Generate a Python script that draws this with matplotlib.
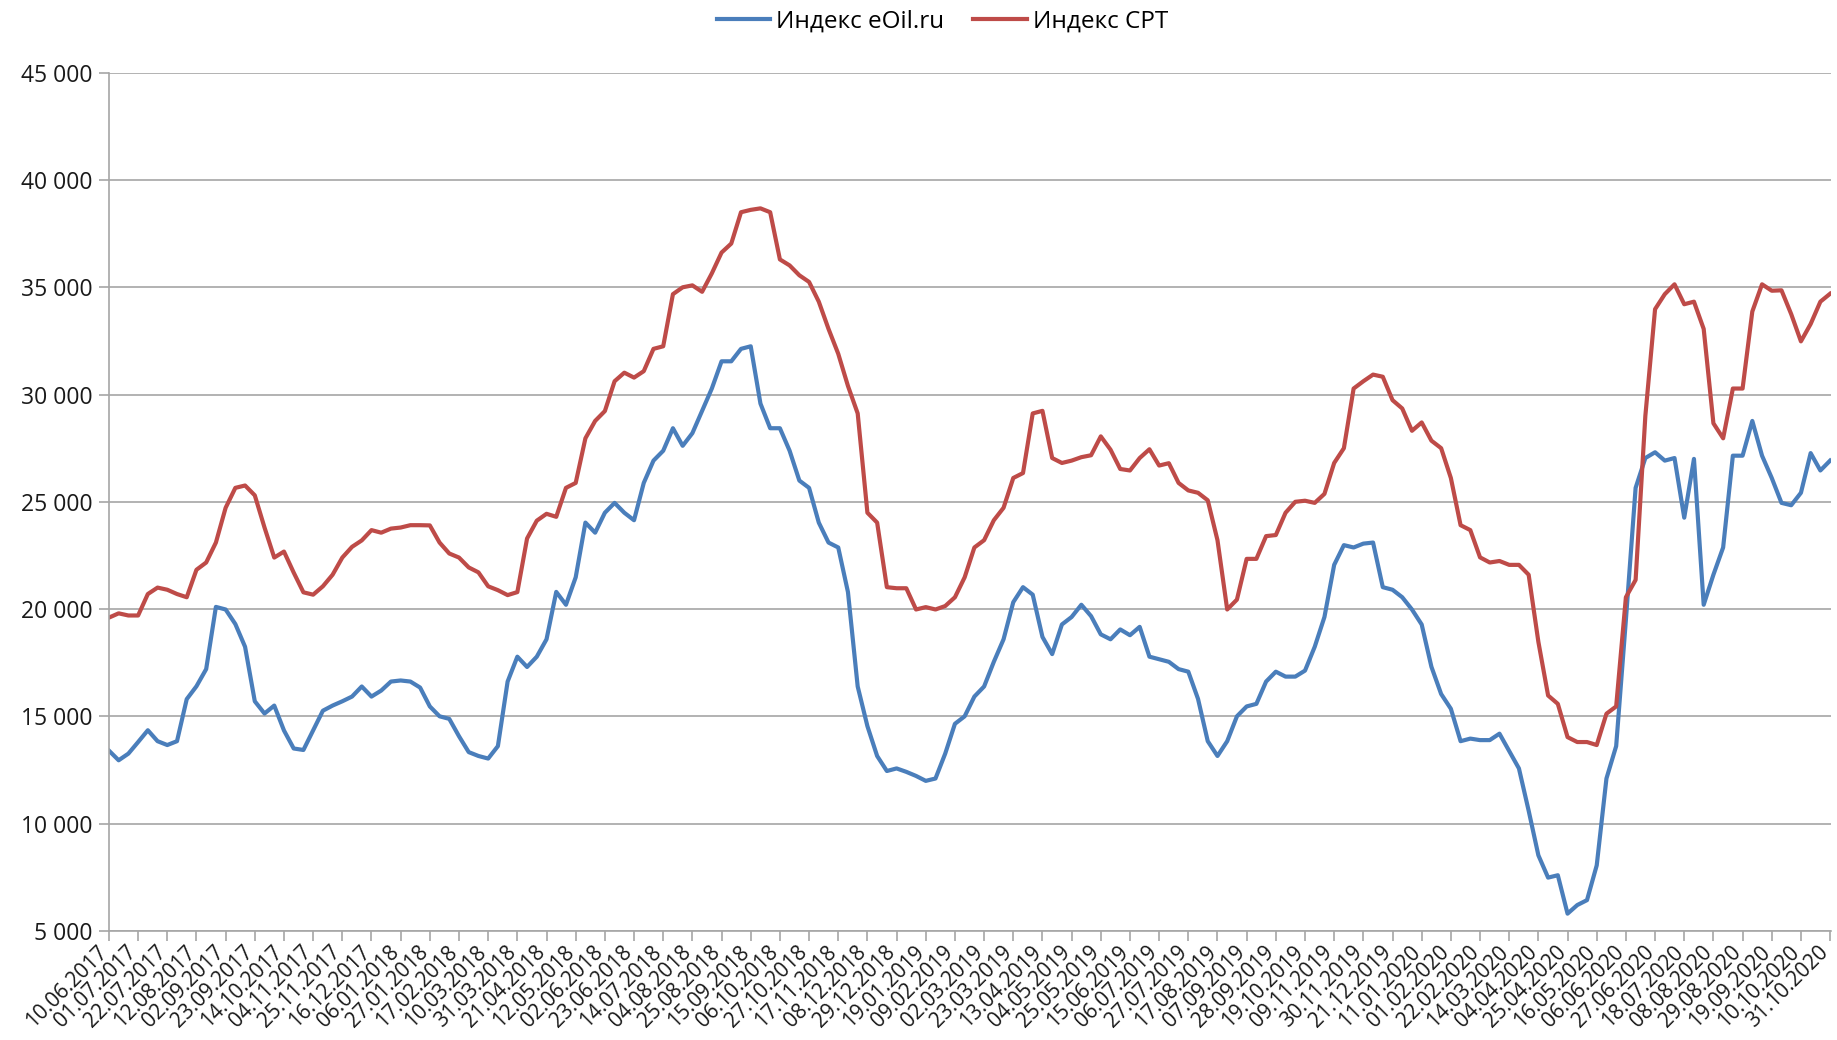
import numpy as np
import pandas as pd
import matplotlib
matplotlib.use('Agg')
import matplotlib.pyplot as plt
from matplotlib.ticker import FuncFormatter, MultipleLocator
from matplotlib.transforms import ScaledTranslation

plt.rcParams['font.family'] = ['Open Sans', 'DejaVu Sans']

# weekly readings starting 10.06.2017
start_date = '2017-06-10'
eoil_index = [
    13400, 12950, 13260, 13800, 14350, 13840, 13660, 13840, 15800, 16400,
    17200, 20100, 19980, 19300, 18240, 15700, 15130, 15500, 14340, 13500,
    13430, 14340, 15260, 15500, 15700, 15920, 16390, 15920, 16200, 16620,
    16670, 16620, 16340, 15460, 15000, 14880, 14070, 13330, 13150, 13030,
    13610, 16620, 17780, 17300, 17780, 18590, 20800, 20200, 21480, 24030,
    23560, 24490, 24950, 24490, 24140, 25880, 26920, 27380, 28430, 27610,
    28200, 29240, 30280, 31550, 31550, 32130, 32250, 29580, 28430, 28430,
    27380, 25990, 25650, 24030, 23100, 22870, 20790, 16390, 14540, 13150,
    12450, 12570, 12410, 12220, 11990, 12100, 13260, 14650, 15000, 15920,
    16390, 17540, 18590, 20320, 21020, 20670, 18700, 17900, 19280, 19630,
    20200, 19670, 18820, 18590, 19050, 18780, 19170, 17780, 17660, 17540,
    17200, 17080, 15810, 13840, 13150, 13840, 15000, 15460, 15580, 16620,
    17080, 16850, 16850, 17130, 18240, 19630, 22060, 22980, 22870, 23050,
    23100, 21020, 20900, 20550, 19980, 19280, 17310, 16040, 15350, 13840,
    13960, 13890, 13890, 14190, 13380, 12570, 10600, 8520, 7480, 7590,
    5800, 6200, 6430, 8050, 12100, 13610, 19500, 25650, 27040, 27310,
    26920, 27040, 24260, 27000, 20200, 21600, 22870, 27150, 27150, 28770,
    27150, 26110, 24950, 24840, 25420, 27270, 26460, 26920,
]
cpt_index = [
    19600, 19800, 19700, 19700, 20700, 21000, 20900, 20700, 20550, 21830,
    22170, 23100, 24720, 25650, 25760, 25300, 23800, 22400, 22680, 21700,
    20780, 20670, 21060, 21600, 22400, 22900, 23200, 23680, 23560, 23750,
    23800, 23910, 23910, 23900, 23100, 22590, 22400, 21940, 21710, 21060,
    20880, 20650, 20790, 23290, 24120, 24440, 24300, 25650, 25880, 27960,
    28770, 29230, 30620, 31020, 30790, 31090, 32130, 32250, 34680, 35000,
    35090, 34790, 35650, 36620, 37040, 38500, 38610, 38680, 38500, 36300,
    36020, 35560, 35250, 34330, 33060, 31900, 30400, 29120, 24490, 24030,
    21020, 20970, 20970, 19980, 20090, 19980, 20140, 20550, 21480, 22870,
    23210, 24140, 24720, 26110, 26340, 29120, 29240, 27040, 26810, 26920,
    27080, 27170, 28050, 27430, 26530, 26460, 27040, 27450, 26690, 26800,
    25880, 25530, 25420, 25070, 23210, 19980, 20440, 22340, 22340, 23400,
    23450, 24490, 25000, 25050, 24950, 25370, 26810, 27500, 30280, 30620,
    30930, 30830, 29740, 29350, 28310, 28700, 27850, 27500, 26110, 23910,
    23680, 22410, 22170, 22240, 22060, 22060, 21600, 18470, 15970, 15580,
    14030, 13800, 13800, 13660, 15120, 15460, 20550, 21360, 29000, 33980,
    34680, 35140, 34210, 34330, 33060, 28660, 27960, 30280, 30280, 33870,
    35140, 34840, 34860, 33750, 32480, 33290, 34330, 34700,
]
tick_dates = pd.date_range('2017-06-10', '2020-10-31', freq='21D')

weeks = pd.date_range(start_date, periods=len(eoil_index), freq='7D')

fig = plt.figure(figsize=(18.37, 10.40), dpi=100)
ax = fig.add_axes([0.0593, 0.105, 0.9377, 0.825])

ax.plot(weeks, eoil_index, color='#4A7EBB', lw=3.0, label='Индекс eOil.ru',
        solid_joinstyle='round')
ax.plot(weeks, cpt_index, color='#BE4B48', lw=3.0, label='Индекс CPT',
        solid_joinstyle='round')

ax.set_ylim(5000, 45000)
ax.yaxis.set_major_locator(MultipleLocator(5000))
ax.yaxis.set_major_formatter(FuncFormatter(lambda v, p: f'{int(v):,}'.replace(',', ' ')))
ax.set_xlim(weeks[0], weeks[-1] + pd.Timedelta(days=1))
ax.set_xticks(tick_dates)
ax.set_xticklabels([d.strftime('%d.%m.%Y') for d in tick_dates], rotation=45,
                   ha='right', rotation_mode='anchor')

ax.grid(axis='y', color='#A6A6A6', lw=1.2)
ax.set_axisbelow(True)
for s in ['top', 'right']:
    ax.spines[s].set_visible(False)
for s in ['left', 'bottom']:
    ax.spines[s].set_color('#A6A6A6')
    ax.spines[s].set_linewidth(1.2)
ax.tick_params(axis='both', colors='#A6A6A6', labelcolor='#1a1a1a',
               labelsize=16.5, length=7, width=1.2)
ax.tick_params(axis='x', labelsize=15, pad=1)
ax.tick_params(axis='y', pad=5)

fig.legend(loc='upper center', bbox_to_anchor=(0.513, 1.012), ncol=2, frameon=False,
           fontsize=17.5, handlelength=2.2, columnspacing=1.2, handletextpad=0.25)

# nudge date labels left so the last one stays inside the picture
fig.canvas.draw()
shift = ScaledTranslation(-12 / 100, 0, fig.dpi_scale_trans)
for lbl in ax.get_xticklabels():
    lbl.set_transform(lbl.get_transform() + shift)

plt.savefig('out.png', dpi=100)
